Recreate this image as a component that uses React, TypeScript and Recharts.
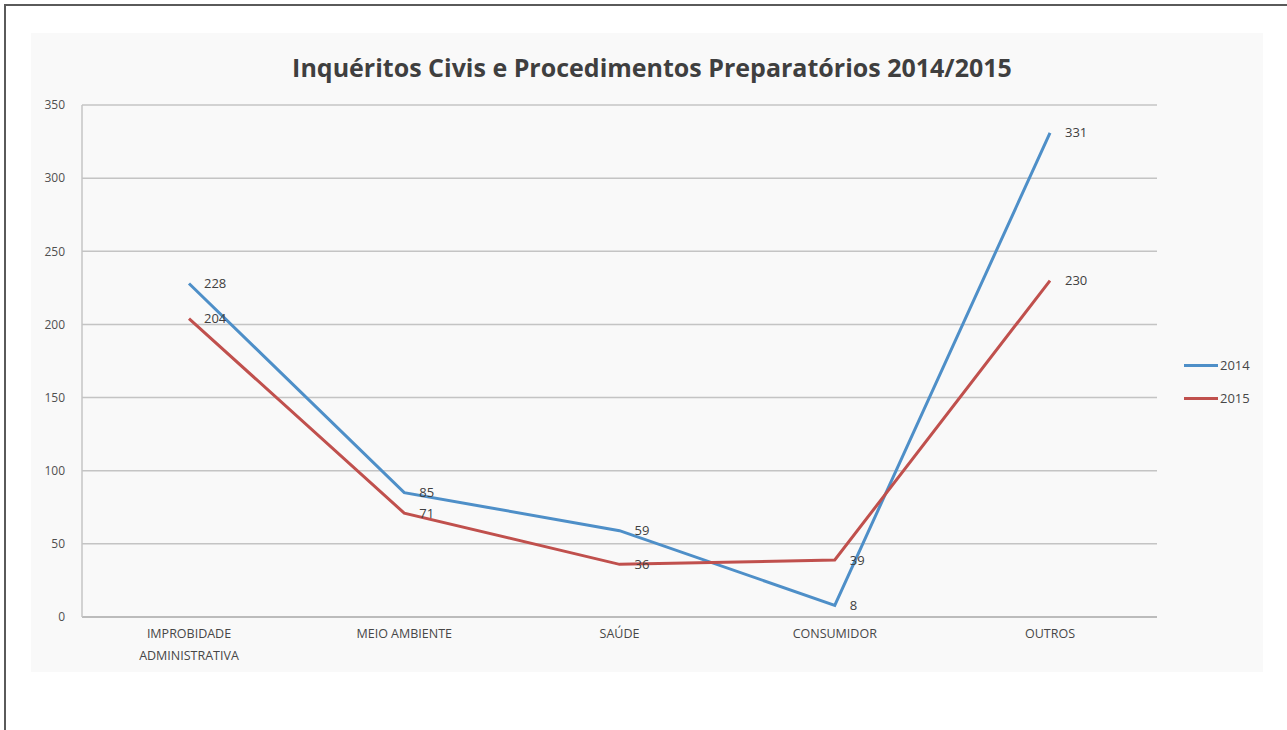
import React from "react";
import {
  LineChart,
  Line,
  XAxis,
  YAxis,
  CartesianGrid,
  LabelList,
} from "recharts";

const categories = [
  "IMPROBIDADE ADMINISTRATIVA",
  "MEIO AMBIENTE",
  "SAÚDE",
  "CONSUMIDOR",
  "OUTROS",
];
const values2014 = [228, 85, 59, 8, 331];
const values2015 = [204, 71, 36, 39, 230];
const yTicks = [0, 50, 100, 150, 200, 250, 300, 350];

const data = categories.map((name, i) => ({
  name,
  y2014: values2014[i],
  y2015: values2015[i],
}));

const FONT = "'Open Sans', 'Liberation Sans', sans-serif";
const BLUE = "#4e8fc8";
const RED = "#c0504d";

// Category labels, wrapped onto two lines where they need it
const CategoryTick = (props: any) => {
  const { x, y, payload } = props;
  const label: string = payload.value;
  const lines =
    label === "IMPROBIDADE ADMINISTRATIVA"
      ? ["IMPROBIDADE", "ADMINISTRATIVA"]
      : [label];
  return (
    <text
      x={x}
      y={y}
      textAnchor="middle"
      fontFamily={FONT}
      fontSize={12.5}
      fill="#474747"
    >
      {lines.map((l, i) => (
        <tspan key={i} x={x} dy={i === 0 ? 13 : 22}>
          {l}
        </tspan>
      ))}
    </text>
  );
};

const legendItems = [
  { c: BLUE, t: "2014" },
  { c: RED, t: "2015" },
];

export default function App() {
  return (
    <div
      style={{
        position: "absolute",
        left: 0,
        top: 0,
        width: 1287,
        height: 730,
        background: "#ffffff",
        overflow: "hidden",
      }}
    >
      {/* page frame */}
      <div
        style={{
          position: "absolute",
          left: 4,
          top: 4,
          width: 1283,
          height: 726,
          borderTop: "2px solid #5a5a5a",
          borderLeft: "2px solid #5a5a5a",
          boxSizing: "border-box",
        }}
      />
      {/* chart panel */}
      <div
        style={{
          position: "absolute",
          left: 31,
          top: 33,
          width: 1232,
          height: 639,
          background: "#f9f9f9",
        }}
      />
      <div
        style={{
          position: "absolute",
          left: 0,
          top: 50,
          width: 1304,
          textAlign: "center",
          fontFamily: FONT,
          fontWeight: 700,
          fontSize: 25,
          color: "#3f3f3f",
          lineHeight: "34px",
        }}
      >
        Inquéritos Civis e Procedimentos Preparatórios 2014/2015
      </div>
      {/* legend */}
      <div
        style={{
          position: "absolute",
          left: 1184,
          top: 355,
          fontFamily: FONT,
          fontSize: 13,
          color: "#474747",
        }}
      >
        {legendItems.map((e, i) => (
          <div
            key={e.t}
            style={{
              display: "flex",
              alignItems: "center",
              height: 20,
              marginBottom: i === 0 ? 13 : 0,
            }}
          >
            <div style={{ width: 34, height: 3, background: e.c }} />
            <span style={{ marginLeft: 2 }}>{e.t}</span>
          </div>
        ))}
      </div>
      <div style={{ position: "absolute", left: 0, top: 0 }}>
        <LineChart
          width={1287}
          height={730}
          data={data}
          margin={{ top: 105, right: 130, bottom: 53, left: 32 }}
        >
          <CartesianGrid
            vertical={false}
            stroke="#c4c4c4"
            strokeWidth={1.5}
          />
          <XAxis
            dataKey="name"
            height={60}
            tick={<CategoryTick />}
            tickLine={false}
            axisLine={{ stroke: "#b5b5b5", strokeWidth: 1.5 }}
            interval={0}
            padding={{ left: 107, right: 107 }}
          />
          <YAxis
            width={50}
            domain={[0, 350]}
            ticks={yTicks}
            tickSize={0}
            tickMargin={17}
            tickLine={false}
            axisLine={{ stroke: "#c4c4c4", strokeWidth: 1.5 }}
            tick={{ fontFamily: FONT, fontSize: 12, fill: "#505050" }}
          />
          <Line
            type="linear"
            dataKey="y2014"
            name="2014"
            stroke={BLUE}
            strokeWidth={3}
            dot={false}
            isAnimationActive={false}
          >
            <LabelList
              dataKey="y2014"
              position="right"
              offset={15}
              fontFamily={FONT}
              fontSize={13}
              fill="#404040"
            />
          </Line>
          <Line
            type="linear"
            dataKey="y2015"
            name="2015"
            stroke={RED}
            strokeWidth={3}
            dot={false}
            isAnimationActive={false}
          >
            <LabelList
              dataKey="y2015"
              position="right"
              offset={15}
              fontFamily={FONT}
              fontSize={13}
              fill="#404040"
            />
          </Line>
        </LineChart>
      </div>
    </div>
  );
}
